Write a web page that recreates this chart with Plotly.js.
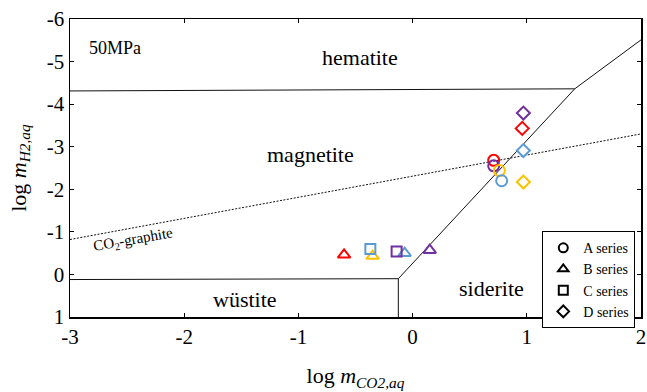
<!DOCTYPE html>
<html><head><meta charset="utf-8">
<script src="https://cdn.plot.ly/plotly-3.0.1.min.js"></script>
<style>html,body{margin:0;padding:0;background:#fff}#chart{width:647px;height:392px}</style>
</head><body><div id="chart"></div>
<script>
// ---- data ----
var A_x = [0.71, 0.71, 0.76, 0.78];
var A_y = [-2.68, -2.55, -2.44, -2.20];
var A_c = ['#FF0000', '#7030A0', '#FFC000', '#5B9BD5'];
var B_x = [-0.60, -0.35, -0.07, 0.15];
var B_y = [-0.46, -0.43, -0.50, -0.57];
var B_c = ['#FF0000', '#FFC000', '#5B9BD5', '#7030A0'];
var C_x = [-0.37, -0.14];
var C_y = [-0.60, -0.54];
var C_c = ['#5B9BD5', '#7030A0'];
var D_x = [0.97, 0.96, 0.97, 0.97];
var D_y = [-3.79, -3.43, -2.91, -2.17];
var D_c = ['#7030A0', '#FF0000', '#5B9BD5', '#FFC000'];

// phase boundaries
var hem_x = [-3, 1.42, 2];
var hem_y = [-4.31, -4.36, -5.51];
var sid_x = [1.42, -0.125, -0.125];
var sid_y = [-4.36, 0.10, 1];
var wus_x = [-3, -0.125];
var wus_y = [0.12, 0.10];
var gra_x = [-3, 2];
var gra_y = [-0.82, -3.30];

var xTickVals = [-3, -2, -1, 0, 1, 2];
var xTickText = ['-3', '-2', '-1', '0', '1', '2'];
var yTickVals = [-6, -5, -4, -3, -2, -1, 0, 1];
var yTickText = ['-6', '-5', '-4', '-3', '-2', '-1', '0', '1'];

var seriesNames = ['A series', 'B series', 'C series', 'D series'];
var seriesSymbols = ['circle-open', 'triangle-up-open', 'square-open', 'diamond-open'];

var FONT = 'Liberation Serif';

function lineTrace(x, y, dash) {
  return {x: x, y: y, mode: 'lines', type: 'scatter', showlegend: false, hoverinfo: 'skip',
    line: {color: '#111', width: 1, dash: dash || 'solid'}};
}
function ptTrace(x, y, c, sym, size) {
  return {x: x, y: y, mode: 'markers', type: 'scatter', showlegend: false,
    marker: {symbol: sym, size: size, color: c, line: {width: 2, color: c}}};
}
var traces = [
  lineTrace(hem_x, hem_y), lineTrace(sid_x, sid_y), lineTrace(wus_x, wus_y),
  lineTrace(gra_x, gra_y, '2px,1.5px'),
  ptTrace(A_x, A_y, A_c, seriesSymbols[0], 11),
  ptTrace(B_x, B_y, B_c, seriesSymbols[1], 11),
  ptTrace(C_x, C_y, C_c, seriesSymbols[2], 10),
  ptTrace(D_x, D_y, D_c, seriesSymbols[3], 10)
];
seriesNames.forEach(function (n, i) {
  traces.push({x: [null], y: [null], mode: 'markers', type: 'scatter', name: n,
    marker: {symbol: seriesSymbols[i], size: 9, color: '#000', line: {width: 2, color: '#000'}}});
});

function lab(x, y, t, size, angle) {
  return {x: x, y: y, xref: 'x', yref: 'y', text: t, showarrow: false,
    font: {family: FONT, size: size, color: '#000'}, textangle: angle || 0};
}

var layout = {
  width: 647, height: 392,
  margin: {l: 70, r: 6, t: 19, b: 75, autoexpand: false},
  paper_bgcolor: '#fff', plot_bgcolor: '#fff',
  font: {family: FONT, color: '#000'},
  xaxis: {range: [-3, 2], tickvals: xTickVals, ticktext: xTickText, ticks: 'inside', ticklen: 4,
    tickcolor: '#000', showline: true, linecolor: '#000', linewidth: 1.5, mirror: 'ticks',
    showgrid: false, zeroline: false, tickfont: {family: FONT, size: 21, color: '#000'},
    title: {text: 'log <i>m</i><sub><i>CO2,aq</i></sub>', font: {family: FONT, size: 22, color: '#000'}, standoff: 20}},
  yaxis: {range: [1, -6], tickvals: yTickVals, ticktext: yTickText, ticks: 'inside', ticklen: 4,
    tickcolor: '#000', showline: true, linecolor: '#000', linewidth: 1.5, mirror: 'ticks',
    showgrid: false, zeroline: false, tickfont: {family: FONT, size: 21, color: '#000'},
    title: {text: 'log <i>m</i><sub><i>H2,aq</i></sub>', font: {family: FONT, size: 22, color: '#000'}, standoff: 14}},
  legend: {x: 0.99, y: 0.288, xanchor: 'right', yanchor: 'top', bgcolor: '#fff',
    bordercolor: '#000', borderwidth: 1, itemwidth: 30, tracegroupgap: 0,
    font: {family: FONT, size: 14, color: '#000'}},
  annotations: [
    lab(-0.46, -5.09, 'hematite', 22),
    lab(-0.89, -2.81, 'magnetite', 22),
    lab(-1.47, 0.60, 'wüstite', 22),
    lab(0.69, 0.32, 'siderite', 22),
    lab(-2.61, -5.32, '50MPa', 18),
    lab(-2.44, -0.81, 'CO<sub>2</sub>-graphite', 15, -10)
  ],
  showlegend: true
};
Plotly.newPlot('chart', traces, layout, {displayModeBar: false, staticPlot: true});
</script></body></html>
